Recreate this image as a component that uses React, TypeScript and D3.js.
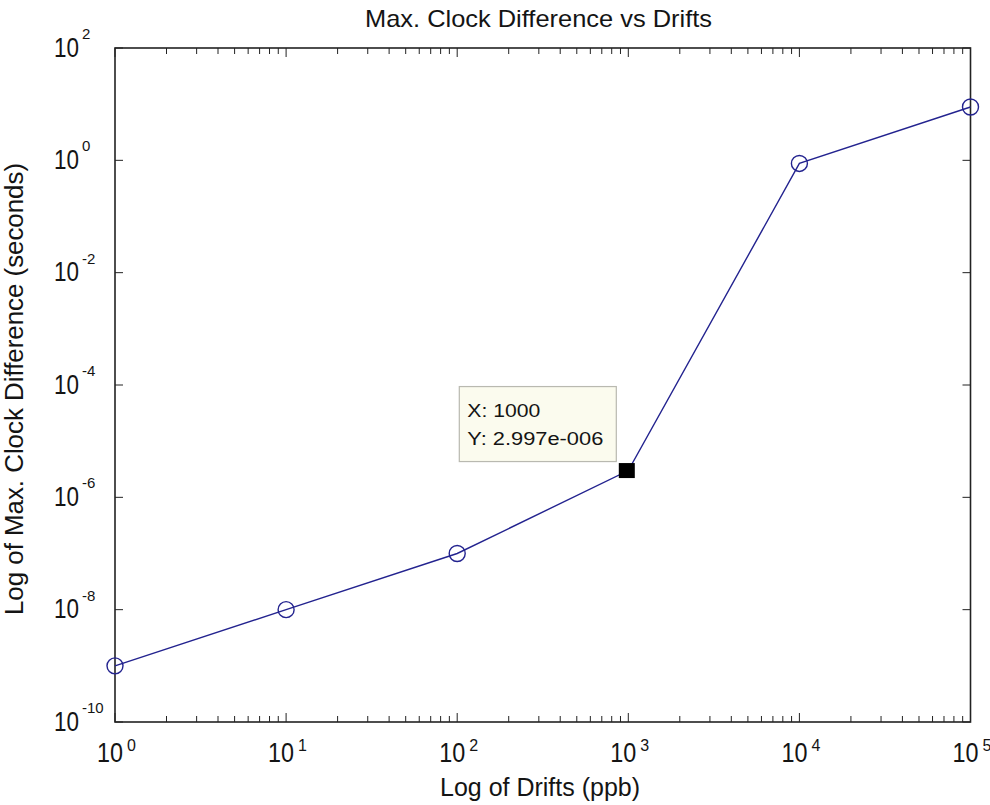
import React from "react";
import * as d3 from "d3";

// Drift (ppb) against the maximum clock difference (seconds)
const drifts = [1, 10, 100, 1000, 10000, 100000];
const maxDiffs = [1e-9, 1e-8, 1e-7, 2.997e-6, 0.88, 8.9];

const xTickExps = [0, 1, 2, 3, 4, 5];
const yTickExps = [2, 0, -2, -4, -6, -8, -10];

const cursorX = 1000;
const cursorY = 2.997e-6;
const cursorLines = ["X: 1000", "Y: 2.997e-006"];

const W = 990;
const H = 805;
const margin = { left: 115, right: 19.5, top: 48, bottom: 83 };
const FONT = "'Liberation Sans', Arial, sans-serif";
const LINE = "#23238f";
const INK = "#141414";

export default function App() {
  const x = d3
    .scaleLog()
    .domain([1, 1e5])
    .range([margin.left, W - margin.right]);
  const y = d3
    .scaleLog()
    .domain([1e-10, 1e2])
    .range([H - margin.bottom, margin.top]);

  const [x0, x1] = x.range();
  const [y0, y1] = y.range(); // y0 bottom, y1 top

  const minorX: number[] = [];
  for (let e = 0; e < 5; e++) {
    for (let m = 2; m <= 9; m++) minorX.push(m * Math.pow(10, e));
  }

  const line = d3
    .line<number>()
    .x((_, i) => x(drifts[i]))
    .y((d) => y(d));

  const cx = x(cursorX);
  const cy = y(cursorY);

  return (
    <svg
      width={W}
      height={H}
      style={{ position: "absolute", left: 0, top: 0, background: "#fff" }}
      fontFamily={FONT}
    >
      <rect x={0} y={0} width={W} height={H} fill="#fff" />
      <text
        x={538.5}
        y={27}
        textAnchor="middle"
        fontSize={24}
        fill={INK}
        textLength={347}
        lengthAdjust="spacingAndGlyphs"
      >
        Max. Clock Difference vs Drifts
      </text>

      {/* x ticks, bottom and top */}
      {minorX.map((v) => (
        <g key={"mx" + v} stroke="#222" strokeWidth={1}>
          <line x1={x(v)} x2={x(v)} y1={y0} y2={y0 - 6} />
          <line x1={x(v)} x2={x(v)} y1={y1} y2={y1 + 6} />
        </g>
      ))}
      {xTickExps.map((e) => {
        const px = x(Math.pow(10, e));
        return (
          <g key={"x" + e} fill={INK}>
            <line x1={px} x2={px} y1={y0} y2={y0 - 9} stroke="#222" />
            <line x1={px} x2={px} y1={y1} y2={y1 + 9} stroke="#222" />
            <text
              x={px - 18}
              y={762}
              fontSize={27}
              textLength={26}
              lengthAdjust="spacingAndGlyphs"
            >
              10
            </text>
            <text x={px + 12} y={751} fontSize={16}>
              {e}
            </text>
          </g>
        );
      })}

      {/* y ticks, left and right */}
      {yTickExps.map((e) => {
        const py = y(Math.pow(10, e));
        const label = e < 0 ? "-" + Math.abs(e) : String(e);
        return (
          <g key={"y" + e} fill={INK}>
            <line x1={x0} x2={x0 + 8} y1={py} y2={py} stroke="#222" />
            <line x1={x1} x2={x1 - 8} y1={py} y2={py} stroke="#222" />
            <text
              x={54}
              y={py + 8.5}
              fontSize={27}
              textLength={25}
              lengthAdjust="spacingAndGlyphs"
            >
              10
            </text>
            <text x={82} y={py - 9} fontSize={15}>
              {label}
            </text>
          </g>
        );
      })}

      <rect
        x={x0}
        y={y1}
        width={x1 - x0}
        height={y0 - y1}
        fill="none"
        stroke="#222"
        strokeWidth={1.6}
      />

      <path d={line(maxDiffs) || ""} fill="none" stroke={LINE} strokeWidth={1.4} />
      {maxDiffs.map((v, i) =>
        drifts[i] === cursorX ? null : (
          <circle
            key={"p" + i}
            cx={x(drifts[i])}
            cy={y(v)}
            r={8}
            fill="none"
            stroke={LINE}
            strokeWidth={1.4}
          />
        )
      )}

      {/* data cursor */}
      <rect x={cx - 9.5} y={cy - 7.5} width={16} height={15} fill="#000" />
      <rect
        x={cx - 169}
        y={cy - 84}
        width={157}
        height={75}
        fill="#fbfbee"
        stroke="#b9b9b0"
        strokeWidth={1.2}
      />
      <text
        x={cx - 161}
        y={cy - 54}
        fontSize={18}
        fill={INK}
        textLength={73}
        lengthAdjust="spacingAndGlyphs"
      >
        {cursorLines[0]}
      </text>
      <text
        x={cx - 161}
        y={cy - 26}
        fontSize={18}
        fill={INK}
        textLength={136}
        lengthAdjust="spacingAndGlyphs"
      >
        {cursorLines[1]}
      </text>

      <text
        x={540}
        y={796}
        textAnchor="middle"
        fontSize={25}
        fill={INK}
        textLength={200}
        lengthAdjust="spacingAndGlyphs"
      >
        Log of Drifts (ppb)
      </text>
      <text
        transform={`translate(23, ${(y0 + y1) / 2 + 4}) rotate(-90)`}
        textAnchor="middle"
        fontSize={25}
        fill={INK}
        textLength={452}
        lengthAdjust="spacingAndGlyphs"
      >
        Log of Max. Clock Difference (seconds)
      </text>
    </svg>
  );
}
